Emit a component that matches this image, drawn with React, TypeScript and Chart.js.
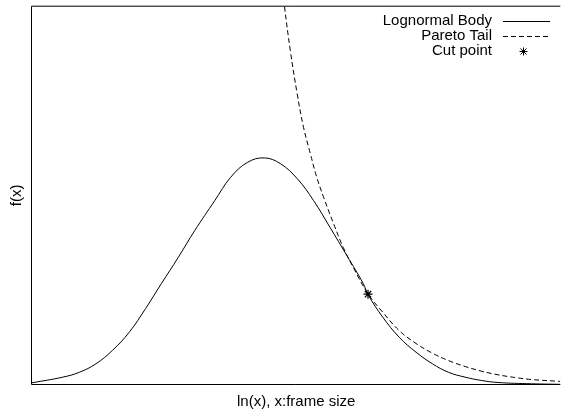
import React, { useEffect, useRef } from "react";
import { Chart, registerables } from "chart.js";

Chart.register(...registerables);

// ln(x) positions and density values
const bodyX = [0, 0.58, 0.9, 1.21, 1.52, 1.84, 2.15, 2.45, 2.77, 3.08, 3.46, 3.76, 4.08, 4.4, 4.7, 5.02, 5.33, 5.64, 5.96, 6.27, 6.36, 6.64, 6.95, 7.27, 7.58, 7.88, 8.2, 8.51, 8.82, 9.45, 10];
const bodyY = [0.0058, 0.0206, 0.0337, 0.0559, 0.0909, 0.139, 0.2016, 0.2675, 0.3368, 0.4071, 0.4862, 0.5476, 0.5871, 0.5987, 0.5837, 0.5441, 0.4862, 0.4158, 0.3412, 0.2675, 0.2385, 0.1787, 0.126, 0.0864, 0.0559, 0.0337, 0.0206, 0.0119, 0.0066, 0.0032, 0.0018];

const tailX = [4.75, 4.78, 4.89, 5.02, 5.14, 5.27, 5.39, 5.52, 5.71, 5.89, 6.08, 6.36, 6.64, 6.95, 7.27, 7.58, 7.88, 8.2, 8.51, 8.82, 9.14, 9.45, 9.94, 10];
const tailY = [1.04, 0.9974, 0.8814, 0.7673, 0.6793, 0.6092, 0.5476, 0.4949, 0.4248, 0.3631, 0.3104, 0.2403, 0.1918, 0.1436, 0.1094, 0.0838, 0.0646, 0.0487, 0.0364, 0.0269, 0.0198, 0.0145, 0.01, 0.0095];

const cutX = [6.36];
const cutY = [0.2395];

const seriesLabels = ["Lognormal Body", "Pareto Tail", "Cut point"];
const xTitle = "ln(x), x:frame size";
const yTitle = "f(x)";

const FONT = "'Liberation Sans', Arial, Helvetica, sans-serif";

function drawStar(ctx: CanvasRenderingContext2D, x: number, y: number, r: number) {
  ctx.beginPath();
  ctx.moveTo(x - r, y);
  ctx.lineTo(x + r, y);
  ctx.moveTo(x, y - r);
  ctx.lineTo(x, y + r);
  const d = r * 0.75;
  ctx.moveTo(x - d, y - d);
  ctx.lineTo(x + d, y + d);
  ctx.moveTo(x - d, y + d);
  ctx.lineTo(x + d, y - d);
  ctx.stroke();
}

const framePlugin = {
  id: "frameAndKey",
  afterDraw(chart: any) {
    const { ctx, chartArea } = chart;
    const { left, top, right, bottom } = chartArea;
    ctx.save();
    ctx.strokeStyle = "#000";
    ctx.lineWidth = 1;
    ctx.setLineDash([]);
    ctx.beginPath();
    ctx.moveTo(right, top + 0.5);
    ctx.lineTo(left - 0.5, top + 0.5);
    ctx.lineTo(left - 0.5, bottom - 0.5);
    ctx.lineTo(right, bottom - 0.5);
    ctx.stroke();

    // key
    const textRight = 492;
    const sampleL = 503;
    const sampleR = 550;
    const rows = [21, 36, 51];
    ctx.font = `15px ${FONT}`;
    ctx.fillStyle = "#000";
    ctx.textAlign = "right";
    ctx.textBaseline = "middle";
    chart.data.datasets.forEach((ds: any, i: number) => {
      const y = rows[i];
      ctx.fillText(ds.label, textRight, y);
      ctx.strokeStyle = "#000";
      ctx.lineWidth = 1;
      if (ds.showLine === false) {
        ctx.setLineDash([]);
        drawStar(ctx, 523.5, y + 0.5, 4);
      } else {
        ctx.setLineDash(ds.borderDash || []);
        ctx.beginPath();
        ctx.moveTo(sampleL, y + 0.5);
        ctx.lineTo(sampleR, y + 0.5);
        ctx.stroke();
      }
    });
    ctx.restore();
  },
};

export default function App() {
  const ref = useRef<HTMLCanvasElement | null>(null);

  useEffect(() => {
    if (!ref.current) return;
    const chart = new Chart(ref.current, {
      type: "line",
      data: {
        datasets: [
          {
            label: seriesLabels[0],
            data: bodyX.map((x, i) => ({ x, y: bodyY[i] })),
            borderColor: "#000",
            borderWidth: 1,
            pointRadius: 0,
            tension: 0.4,
            fill: false,
          },
          {
            label: seriesLabels[1],
            data: tailX.map((x, i) => ({ x, y: tailY[i] })),
            borderColor: "#000",
            borderWidth: 1,
            borderDash: [5, 3],
            pointRadius: 0,
            tension: 0.4,
            fill: false,
          },
          {
            label: seriesLabels[2],
            data: cutX.map((x, i) => ({ x, y: cutY[i] })),
            showLine: false,
            borderColor: "#000",
            backgroundColor: "#000",
            borderWidth: 1.2,
            pointStyle: "star",
            pointRadius: 4.5,
          },
        ],
      },
      options: {
        animation: false,
        responsive: false,
        maintainAspectRatio: false,
        layout: { padding: { top: 5, right: 0, left: 0, bottom: 0 } },
        plugins: {
          legend: { display: false },
          tooltip: { enabled: false },
        },
        scales: {
          x: {
            type: "linear",
            min: 0,
            max: 10,
            grid: { display: false, drawTicks: false },
            border: { display: false },
            ticks: { display: false },
            title: {
              display: true,
              text: xTitle,
              color: "#000",
              font: { family: FONT, size: 15, lineHeight: 1 },
              padding: { top: 9, bottom: 0 },
            },
          },
          y: {
            type: "linear",
            min: 0,
            max: 1,
            grid: { display: false, drawTicks: false },
            border: { display: false },
            ticks: { display: false },
            title: {
              display: true,
              text: yTitle,
              color: "#000",
              font: { family: FONT, size: 15, lineHeight: 1 },
              padding: { top: 9, bottom: 8 },
            },
          },
        },
      },
      plugins: [framePlugin],
    });
    return () => chart.destroy();
  }, []);

  return (
    <div style={{ position: "absolute", left: 0, top: 0, width: 566, height: 409, background: "#fff" }}>
      <canvas ref={ref} width={566} height={409} style={{ width: 566, height: 409, display: "block" }} />
    </div>
  );
}
